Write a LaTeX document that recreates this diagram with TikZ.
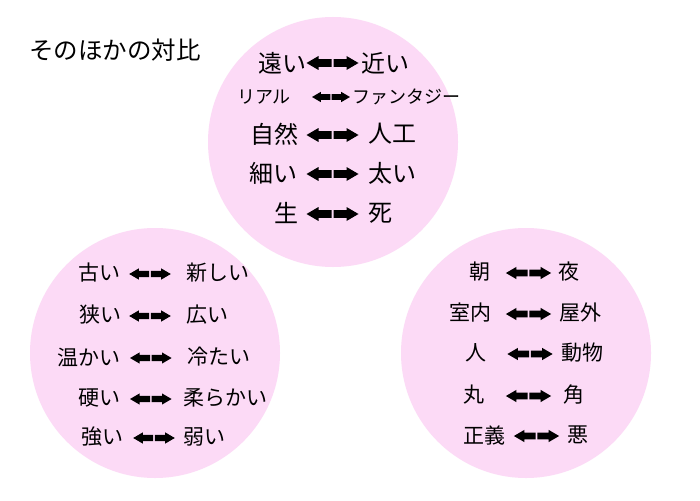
\documentclass[tikz,border=0pt]{standalone}
\usepackage{fontspec}
\setmainfont{Noto Sans CJK JP}
\definecolor{circpink}{RGB}{252,218,246}
\begin{document}
\begin{tikzpicture}[x=1pt,y=-1pt,
  bubble/.style={circle, fill=circpink, minimum size=250pt, inner sep=0pt},
  ttl/.style={font=\fontsize{24.5}{28}\selectfont, inner sep=0pt},
  big/.style={font=\fontsize{24}{28}\selectfont, inner sep=0pt},
  mid/.style={font=\fontsize{21}{25}\selectfont, inner sep=0pt},
  sml/.style={font=\fontsize{18}{22}\selectfont, inner sep=0pt},
  dblarr/.pic={
    \fill (-1,-3.8) -- (-14,-3.8) -- (-14,-7) -- (-26,0) -- (-14,7) -- (-14,3.8) -- (-1,3.8) -- cycle;
    \fill (1,-3.8) -- (14,-3.8) -- (14,-7) -- (26,0) -- (14,7) -- (14,3.8) -- (1,3.8) -- cycle;
  }]
\useasboundingbox (0,0) rectangle (700,500);
\fill[white] (0,0) rectangle (700,500);

% circles
\node[bubble] (ctop) at (333,142) {};
\node[bubble] (cleft) at (155,353) {};
\node[bubble] (cright) at (526,353) {};

% title
\node[ttl] (title) at (115,50) {そのほかの対比};

% top circle
\node[big] (t1l) at (282,63) {遠い};
\node[big] (t1r) at (385,63) {近い};
\coordinate (t1a) at (332.5,63);
\pic at (t1a) {dblarr};

\node[sml] (t2l) at (264,97) {リアル};
\node[sml] (t2r) at (406,97) {ファンタジー};
\coordinate (t2a) at (331,97);
\pic[scale=0.73] at (t2a) {dblarr};

\node[big] (t3l) at (274,134) {自然};
\node[big] (t3r) at (392,134) {人工};
\coordinate (t3a) at (332.5,135);
\pic at (t3a) {dblarr};

\node[big] (t4l) at (273.5,173) {細い};
\node[big] (t4r) at (392,173) {太い};
\coordinate (t4a) at (332.5,174);
\pic at (t4a) {dblarr};

\node[big] (t5l) at (286.5,213) {生};
\node[big] (t5r) at (380,213) {死};
\coordinate (t5a) at (332.5,214);
\pic at (t5a) {dblarr};

% bottom left circle
\node[mid] (l1l) at (99,273) {古い};
\node[mid] (l1r) at (217.5,273) {新しい};
\coordinate (l1a) at (150,274);
\pic[scale=0.8] at (l1a) {dblarr};

\node[mid] (l2l) at (100,315) {狭い};
\node[mid] (l2r) at (207.5,315) {広い};
\coordinate (l2a) at (150,316);
\pic[scale=0.8] at (l2a) {dblarr};

\node[mid] (l3l) at (88.5,357) {温かい};
\node[mid] (l3r) at (218.5,357) {冷たい};
\coordinate (l3a) at (150.8,358);
\pic[scale=0.8] at (l3a) {dblarr};

\node[mid] (l4l) at (99.5,398) {硬い};
\node[mid] (l4r) at (225,398) {柔らかい};
\coordinate (l4a) at (150.8,399);
\pic[scale=0.8] at (l4a) {dblarr};

\node[mid] (l5l) at (102.5,437) {強い};
\node[mid] (l5r) at (204,437) {弱い};
\coordinate (l5a) at (154,438);
\pic[scale=0.8] at (l5a) {dblarr};

% bottom right circle
\node[mid] (r1l) at (480,272) {朝};
\node[mid] (r1r) at (569,272) {夜};
\coordinate (r1a) at (528.5,273);
\pic[scale=0.87] at (r1a) {dblarr};

\node[mid] (r2l) at (470,313) {室内};
\node[mid] (r2r) at (580.5,313) {屋外};
\coordinate (r2a) at (528.5,314);
\pic[scale=0.87] at (r2a) {dblarr};

\node[mid] (r3l) at (476,353) {人};
\node[mid] (r3r) at (582.5,353) {動物};
\coordinate (r3a) at (530,354);
\pic[scale=0.87] at (r3a) {dblarr};

\node[mid] (r4l) at (474,395) {丸};
\node[mid] (r4r) at (574,395) {角};
\coordinate (r4a) at (528.5,396);
\pic[scale=0.87] at (r4a) {dblarr};

\node[mid] (r5l) at (484,435) {正義};
\node[mid] (r5r) at (577.5,435) {悪};
\coordinate (r5a) at (536.5,436);
\pic[scale=0.87] at (r5a) {dblarr};
\end{tikzpicture}
\end{document}
